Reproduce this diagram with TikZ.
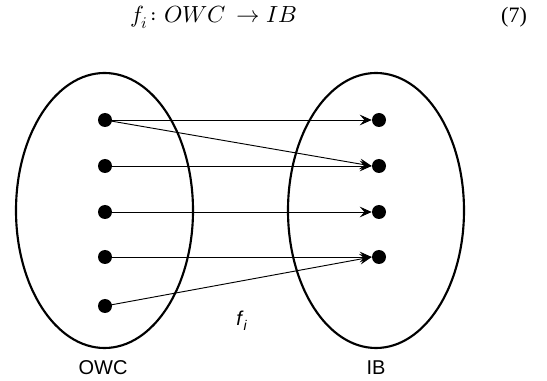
\documentclass[tikz,border=0pt]{standalone}
\usepackage{fontspec}
\setmainfont{Liberation Serif}
\setsansfont{Liberation Sans}
\usepackage{unicode-math}
\setmathfont{Latin Modern Math}
\usetikzlibrary{arrows.meta}
\begin{document}
\begin{tikzpicture}[x=0.75pt,y=-0.75pt,
  setellipse/.style={draw, line width=1.6pt},
  dotnode/.style={circle, fill=black, inner sep=0pt, minimum size=10.5pt},
  maparrow/.style={line width=0.7pt, -{Stealth[length=9pt,width=8pt,inset=3.5pt]}},
  setlabel/.style={font=\sffamily\fontsize{15}{18}\selectfont}]
\useasboundingbox (0,0) rectangle (547,381);
\node[font=\fontsize{17.5}{20}\selectfont, anchor=west, inner sep=0pt] (title) at (130,17) {$f_i\colon OWC\,\rightarrow IB$};
\node[font=\fontsize{16.5}{20}\selectfont] (eqn) at (514,17) {(7)};
\draw[setellipse] (104.5,210.5) ellipse [x radius=88.5, y radius=137.5];
\draw[setellipse] (376,210.5) ellipse [x radius=88, y radius=137.5];
\foreach \i/\y in {1/120,2/166,3/212,4/257,5/306} \node[dotnode] (l\i) at (105,\y) {};
\foreach \i/\y in {1/120,2/166,3/212,4/257} \node[dotnode] (r\i) at (379,\y) {};
\draw[maparrow] (l1.center) -- (r1.west);
\draw[maparrow] (l1.center) -- (r2.west);
\draw[maparrow] (l2.center) -- (r2.west);
\draw[maparrow] (l3.center) -- (r3.west);
\draw[maparrow] (l4.center) -- (r4.west);
\draw[maparrow] (l5.center) -- (r4.west);
\node[setlabel] (owc) at (103,368) {OWC};
\node[setlabel] (ib) at (376,368) {IB};
\node[setlabel] (fi) at (242,321) {\textit{f}\textsubscript{\textit{i}}};
\end{tikzpicture}
\end{document}
